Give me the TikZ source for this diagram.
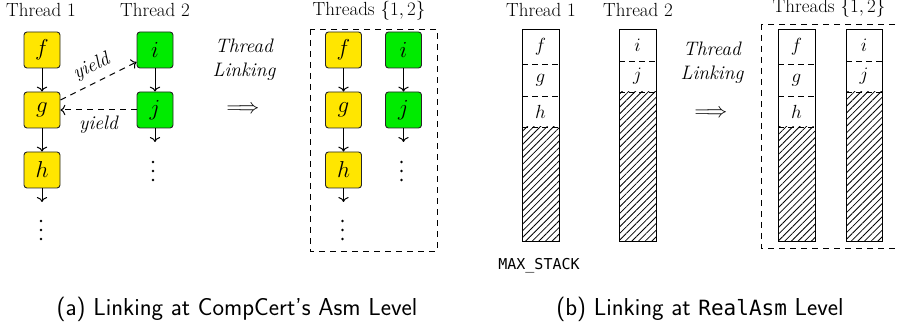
\RequirePackage{fix-cm}
\documentclass[tikz,border=0pt]{standalone}
\usepackage{fontspec}
\usetikzlibrary{arrows.meta,patterns.meta}
\newfontfamily\monofont{DejaVu Sans Mono}
\definecolor{tyellow}{RGB}{255,230,0}
\definecolor{tgreen}{RGB}{0,235,0}
\begin{document}
\begin{tikzpicture}[x=1pt,y=-1pt,
  fbox/.style={draw=black!85, rounded corners=3pt, minimum size=36pt, inner sep=0pt, line width=0.9pt, font=\fontsize{23}{26}\selectfont},
  yel/.style={fbox, fill=tyellow},
  grn/.style={fbox, fill=tgreen},
  arr/.style={-{To[scale=1.3]}, line width=1pt},
  darr/.style={arr, dash pattern=on 6pt off 5pt},
  lbl/.style={font=\fontsize{19}{22}\selectfont, anchor=base, inner sep=0pt},
  itl/.style={font=\fontsize{19.5}{22}\selectfont\itshape},
  itb/.style={itl, anchor=base, inner sep=0pt},
  dbox/.style={draw, dash pattern=on 6pt off 5pt, line width=0.9pt},
  ddiv/.style={draw, dash pattern=on 6pt off 4pt, line width=0.9pt},
  frame/.style={draw, line width=1pt},
  cl/.style={font=\fontsize{19}{22}\selectfont, inner sep=0pt},
  hatch/.style={pattern={Lines[angle=45,distance=4.7pt,line width=0.8pt]}},
  imp/.style={font=\fontsize{21}{24}\selectfont, inner sep=0pt},
  dot/.style={fill=black},
  capt/.style={font=\sffamily\fontsize{24.5}{28}\selectfont, anchor=base, inner sep=0pt}
]
\useasboundingbox (0,0) rectangle (897,328);

% ---------- (a) left ----------
\node[lbl] (t1) at (41,17) {Thread 1};
\node[lbl] (t2) at (155,17) {Thread 2};
\node[yel] (f) at (42,50) {$f$};
\node[yel] (g) at (42,110) {$g$};
\node[yel] (h) at (42,170) {$h$};
\node[grn] (i) at (155,50) {$i$};
\node[grn] (j) at (155,110) {$j$};
\coordinate (hd) at (42,202);
\coordinate (jd) at (155,142);
\draw[arr] (f) -- (g);
\draw[arr] (g) -- (h);
\draw[arr] (h) -- (hd);
\draw[arr] (i) -- (j);
\draw[arr] (j) -- (jd);
\foreach \y in {221,230,239} \fill[dot] (41,\y) circle (1.3pt);
\foreach \y in {162,171,180} \fill[dot] (153,\y) circle (1.3pt);
\draw[darr] ([yshift=10pt]g.east) -- node[sloped, above=3pt, itl] {yield} ([yshift=-12pt]i.west);
\draw[darr] (j.west) -- node[below=2pt, itl] {yield} (g.east);

\node[itb] (tla) at (244,53) {Thread};
\node[itb] (tlb) at (244,77) {Linking};
\node[imp] (impa) at (243,110) {$\Longrightarrow$};

\draw[dbox] (310,29) rectangle (437,251);
\node[lbl] (t12a) at (369,16) {Threads $\{1,2\}$};
\node[yel] (f2) at (343.5,50) {$f$};
\node[yel] (g2) at (343.5,110) {$g$};
\node[yel] (h2) at (343.5,170) {$h$};
\node[grn] (i2) at (403.5,50) {$i$};
\node[grn] (j2) at (403.5,110) {$j$};
\coordinate (hd2) at (343.5,202);
\coordinate (jd2) at (403.5,142);
\draw[arr] (f2) -- (g2);
\draw[arr] (g2) -- (h2);
\draw[arr] (h2) -- (hd2);
\draw[arr] (i2) -- (j2);
\draw[arr] (j2) -- (jd2);
\foreach \y in {221,230,239} \fill[dot] (342.5,\y) circle (1.3pt);
\foreach \y in {162,171,180} \fill[dot] (401.5,\y) circle (1.3pt);

% ---------- (b) right ----------
\node[lbl] (r1) at (541,17) {Thread 1};
\node[lbl] (r2) at (638,17) {Thread 2};
% column 1
\fill[hatch] (522,127) rectangle (559,242);
\draw[ddiv] (522,64) -- (559,64);
\draw[ddiv] (522,96) -- (559,96);
\draw[ddiv] (522,127) -- (559,127);
\draw[frame] (522,30) rectangle (559,242);
\node[cl] (sf) at (540.5,47) {$f$};
\node[cl] (sg) at (540.5,80) {$g$};
\node[cl] (sh) at (540.5,111.5) {$h$};
% column 2
\fill[hatch] (619,92) rectangle (656,242);
\draw[ddiv] (619,61) -- (656,61);
\draw[ddiv] (619,92) -- (656,92);
\draw[frame] (619,30) rectangle (656,242);
\node[cl] (si) at (637.5,45.5) {$i$};
\node[cl] (sj) at (637.5,76.5) {$j$};
\node[font=\monofont\fontsize{15}{18}\selectfont, anchor=base, inner sep=0pt] (ms) at (539,270) {MAX\_STACK};

\node[itb] (tlc) at (712,56) {Thread};
\node[itb] (tld) at (712,80) {Linking};
\node[imp] (impb) at (711,114) {$\Longrightarrow$};

\draw[dbox] (761,24) rectangle (912,248);
\node[lbl] (t12b) at (829,13) {Threads $\{1,2\}$};
% column 3
\fill[hatch] (778,127) rectangle (815,242);
\draw[ddiv] (778,64) -- (815,64);
\draw[ddiv] (778,96) -- (815,96);
\draw[ddiv] (778,127) -- (815,127);
\draw[frame] (778,30) rectangle (815,242);
\node[cl] (sf2) at (796.5,47) {$f$};
\node[cl] (sg2) at (796.5,80) {$g$};
\node[cl] (sh2) at (796.5,111.5) {$h$};
% column 4
\fill[hatch] (846,92) rectangle (882,242);
\draw[ddiv] (846,61) -- (882,61);
\draw[ddiv] (846,92) -- (882,92);
\draw[frame] (846,30) rectangle (882,242);
\node[cl] (si2) at (864,45.5) {$i$};
\node[cl] (sj2) at (864,76.5) {$j$};

% ---------- captions ----------
\node[capt] (capa) at (237,316) {(a) Linking at CompCert's Asm Level};
\node[capt] (capb) at (700,316) {(b) Linking at {\monofont\fontsize{21}{24}\selectfont RealAsm} Level};
\end{tikzpicture}
\end{document}
